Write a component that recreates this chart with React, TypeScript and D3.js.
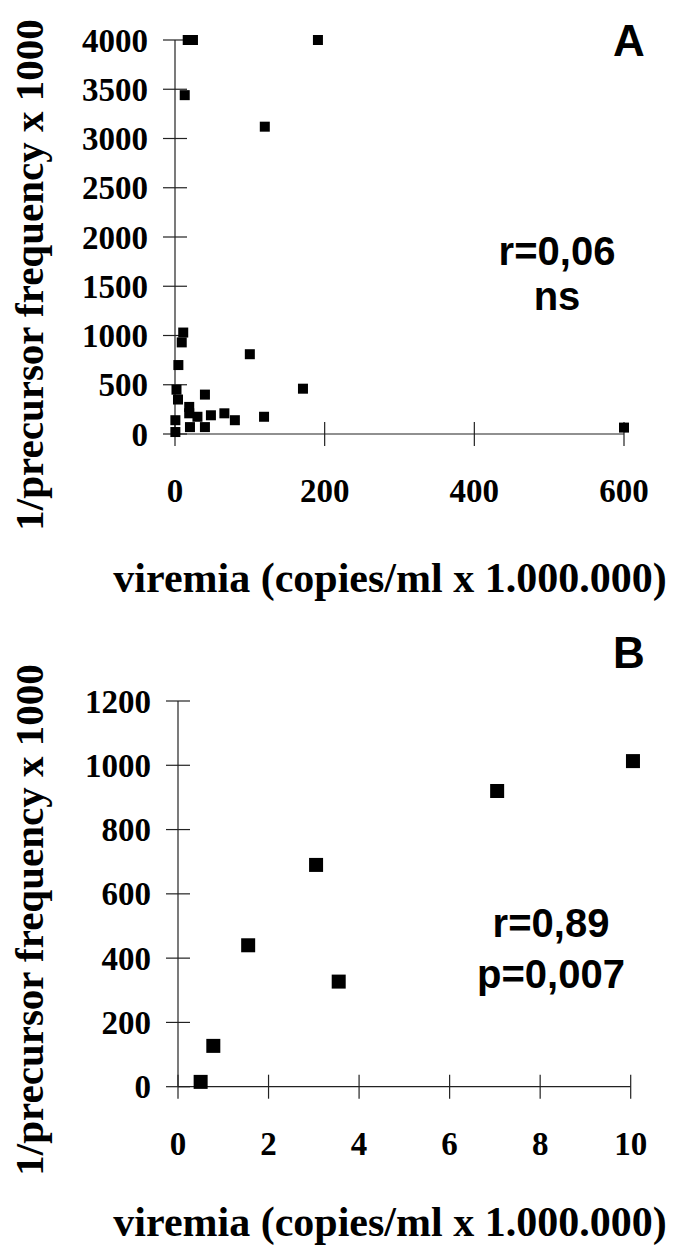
import React from 'react'
import * as d3 from 'd3'

// panel A: all patients
const viremiaA = [17, 24, 191, 13, 120, 11, 9, 4.5, 100, 2, 4, 19, 19, 40, 30, 48, 66, 80, 119, 171, 0.5, 0.5, 20, 40, 600]
const freqA = [4000, 4000, 4000, 3440, 3120, 1030, 930, 700, 810, 450, 350, 275, 210, 400, 175, 190, 210, 140, 175, 460, 140, 20, 70, 70, 65]
const xTicksA = [0, 200, 400, 600]
const yTicksA = [0, 500, 1000, 1500, 2000, 2500, 3000, 3500, 4000]

// panel B: viremia below 10
const viremiaB = [0.5, 0.78, 1.55, 3.05, 3.55, 7.05, 10.05]
const freqB = [15, 127, 440, 690, 327, 920, 1013]
const xTicksB = [0, 2, 4, 6, 8, 10]
const yTicksB = [0, 200, 400, 600, 800, 1000, 1200]

const serif = '"Liberation Serif", "Times New Roman", serif'
const sans = '"Liberation Sans", Arial, sans-serif'

type PanelProps = {
  xs: number[]
  ys: number[]
  xTicks: number[]
  yTicks: number[]
  x: d3.ScaleLinear<number, number>
  y: d3.ScaleLinear<number, number>
  size: number
  letter: string
  letterY: number
  stats: string[]
  statsX: number
  statsY: number[]
  titleY: number
  xTitleY: number
}

function Panel(p: PanelProps) {
  const [x0, x1] = p.x.range()
  const [y0, y1] = p.y.range()
  return (
    <g>
      {/* axes */}
      <line x1={x0} x2={x1} y1={y0} y2={y0} stroke="#222" strokeWidth={1.2} />
      <line x1={x0} x2={x0} y1={y0} y2={y1} stroke="#222" strokeWidth={1.2} />
      {p.xTicks.map(t => (
        <g key={'x' + t}>
          <line x1={p.x(t)} x2={p.x(t)} y1={y0 - 12} y2={y0 + 12} stroke="#222" strokeWidth={1.2} />
          <text x={p.x(t)} y={y0 + 68} textAnchor="middle" fontFamily={serif} fontWeight="bold" fontSize={33}>{t}</text>
        </g>
      ))}
      {p.yTicks.map(t => (
        <g key={'y' + t}>
          <line x1={x0 - 12} x2={x0 + 12} y1={p.y(t)} y2={p.y(t)} stroke="#222" strokeWidth={1.2} />
          <text x={x0 - 27} y={p.y(t)} dy="0.35em" textAnchor="end" fontFamily={serif} fontWeight="bold" fontSize={33}>{t}</text>
        </g>
      ))}
      {/* points */}
      {p.xs.map((v, i) => (
        <rect key={i} x={p.x(v) - p.size / 2} y={p.y(p.ys[i]) - p.size / 2} width={p.size} height={p.size} fill="#000" />
      ))}
      {/* titles */}
      <text transform={`translate(43,${p.titleY}) rotate(-90)`} textAnchor="middle" fontFamily={serif} fontWeight="bold" fontSize={41}>
        1/precursor frequency x 1000
      </text>
      <text x={390} y={p.xTitleY} textAnchor="middle" fontFamily={serif} fontWeight="bold" fontSize={42}>
        viremia (copies/ml x 1.000.000)
      </text>
      <text x={613} y={p.letterY} fontFamily={sans} fontWeight="bold" fontSize={44}>{p.letter}</text>
      {p.stats.map((s, i) => (
        <text key={s} x={p.statsX} y={p.statsY[i]} textAnchor="middle" fontFamily={sans} fontWeight="bold" fontSize={40}>{s}</text>
      ))}
    </g>
  )
}

export default function App() {
  const xA = d3.scaleLinear().domain([0, 600]).range([175, 624])
  const yA = d3.scaleLinear().domain([0, 4000]).range([434, 40])
  const xB = d3.scaleLinear().domain([0, 10]).range([178, 630.7])
  const yB = d3.scaleLinear().domain([0, 1200]).range([1086.7, 701])

  return (
    <svg width={681} height={1249} style={{ position: 'absolute', left: 0, top: 0, background: '#fff' }}>
      <rect width={681} height={1249} fill="#fff" />
      <Panel xs={viremiaA} ys={freqA} xTicks={xTicksA} yTicks={yTicksA} x={xA} y={yA} size={10}
        letter="A" letterY={56} stats={['r=0,06', 'ns']} statsX={557} statsY={[265, 310]}
        titleY={275} xTitleY={592} />
      <Panel xs={viremiaB} ys={freqB} xTicks={xTicksB} yTicks={yTicksB} x={xB} y={yB} size={14}
        letter="B" letterY={668} stats={['r=0,89', 'p=0,007']} statsX={551} statsY={[937, 988]}
        titleY={920} xTitleY={1236} />
    </svg>
  )
}
